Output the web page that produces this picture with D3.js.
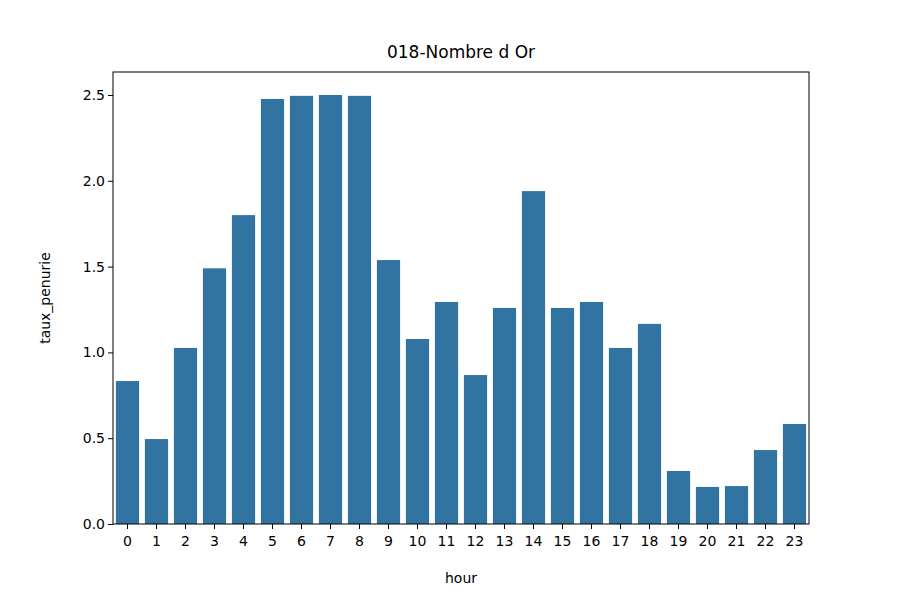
<!DOCTYPE html>
<html>
<head>
<meta charset="utf-8">
<script src="https://cdn.jsdelivr.net/npm/d3@7"></script>
<style>
  body { margin: 0; background: #fff; }
  text { font-family: "DejaVu Sans", sans-serif; }
</style>
</head>
<body>
<div id="chart"></div>
<script>
// data
const hours = d3.range(24).map(String);
const taux = [0.833, 0.495, 1.026, 1.49, 1.80, 2.477, 2.495, 2.5, 2.495, 1.538,
    1.078, 1.294, 0.868, 1.259, 1.94, 1.259, 1.294, 1.026, 1.166, 0.309,
    0.216, 0.221, 0.431, 0.583];
const yTicks = [0, 0.5, 1.0, 1.5, 2.0, 2.5];

const WIDTH = 900, HEIGHT = 600;
const margins = { top: 72, left: 113, bottom: 76, right: 91 };
const width = WIDTH - margins.left - margins.right,
    height = HEIGHT - margins.top - margins.bottom;

const svg = d3.select("#chart").append("svg")
    .attr("width", WIDTH)
    .attr("height", HEIGHT);

const x = d3.scaleBand().domain(hours).range([0, width])
    .paddingInner(0.2).paddingOuter(0.1);
const y = d3.scaleLinear().domain([0, 2.634]).range([height, 0]);

const g = svg.append("g")
    .attr("transform", `translate(${margins.left}, ${margins.top})`);

g.selectAll("rect.bar")
    .data(taux)
    .join("rect")
    .attr("class", "bar")
    .attr("x", (d, i) => x(hours[i]))
    .attr("width", x.bandwidth())
    .attr("y", d => y(d))
    .attr("height", d => height - y(d))
    .attr("fill", "#3274a1");

const xAxis = g.append("g")
    .attr("transform", `translate(0, ${height})`)
    .call(d3.axisBottom(x).tickSize(5).tickSizeOuter(0));
const yAxis = g.append("g")
    .call(d3.axisLeft(y).tickValues(yTicks).tickFormat(d3.format(".1f")).tickSize(5).tickSizeOuter(0));

[xAxis, yAxis].forEach(a => {
    a.select(".domain").remove();
    a.selectAll("text").attr("font-size", 14).attr("fill", "#000")
        .attr("font-family", "DejaVu Sans");
    a.selectAll("line").attr("stroke", "#000");
});
xAxis.selectAll("text").attr("dy", "1.0em");

g.append("rect")
    .attr("width", width).attr("height", height)
    .attr("fill", "none").attr("stroke", "#000").attr("stroke-width", 1);

svg.append("text")
    .attr("x", margins.left + width / 2).attr("y", 58)
    .attr("text-anchor", "middle").attr("font-size", 17)
    .text("018-Nombre d Or");

svg.append("text")
    .attr("x", margins.left + width / 2).attr("y", 583)
    .attr("text-anchor", "middle").attr("font-size", 14)
    .text("hour");

svg.append("text")
    .attr("transform", `translate(50, ${margins.top + height / 2}) rotate(-90)`)
    .attr("text-anchor", "middle").attr("font-size", 14)
    .text("taux_penurie");
</script>
</body>
</html>
